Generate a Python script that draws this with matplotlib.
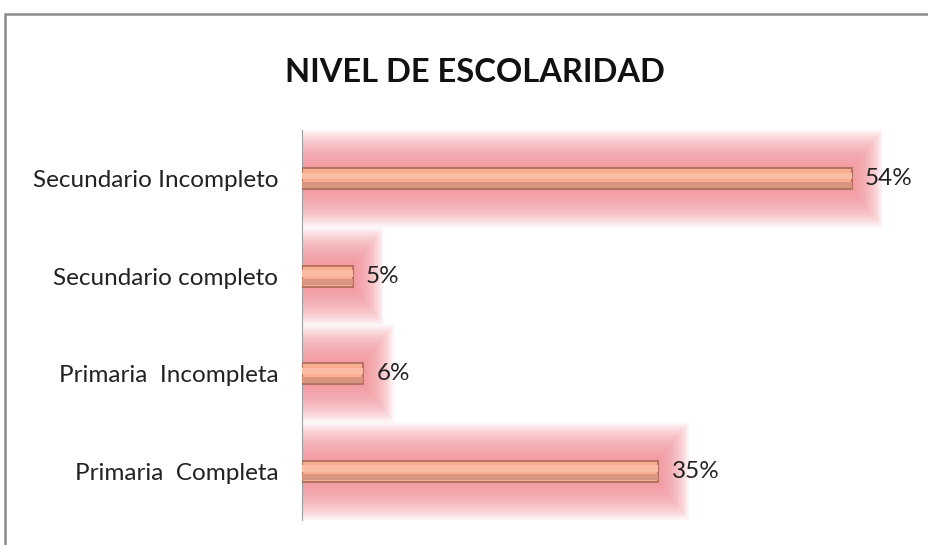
import matplotlib.pyplot as plt
from matplotlib.patches import Rectangle

categories = ['Primaria  Completa', 'Primaria  Incompleta', 'Secundario completo', 'Secundario Incompleto']
values = [35, 6, 5, 54]
labels = ['35%', '6%', '5%', '54%']

plt.rcParams['font.family'] = ['Lato', 'DejaVu Sans']

fig = plt.figure(figsize=(9.29, 5.45), dpi=100)
# outer chart frame
fig.patches.append(Rectangle((5/929, -0.1), 1.0, 1 - 14/545 + 0.1, transform=fig.transFigure,
                             fill=False, edgecolor='#8c8c8c', linewidth=1.8))

ax = fig.add_axes([302/929, 1 - 520/545, 611/929, 390/545])
y = list(range(len(categories)))

# soft glow behind bars
n = 20
for k in range(n):
    f = k / (n - 1)
    h = 0.22 + 0.78 * f
    ext = 3.0 * f
    ax.barh(y, [v + ext for v in values], height=h, color='#f28e94', alpha=0.09,
            linewidth=0, zorder=1)

bh = 0.22
ax.barh(y, values, height=bh, color='#f9ae92', edgecolor='#a86a58', linewidth=1.2, zorder=3)
# bevel: darker lower strip, lighter upper strip
ax.barh([v - bh * 0.28 for v in y], values, height=bh * 0.3, color='#d99580', linewidth=0, zorder=4)
ax.barh([v + bh * 0.12 for v in y], values, height=bh * 0.3, color='#fcbca4', linewidth=0, zorder=4)

for yi, v, lab in zip(y, values, labels):
    ax.text(v + 1.3, yi, lab, va='center', ha='left', fontsize=17.5, color='#222222')

ax.set_xlim(0, 60)
ax.set_ylim(-0.5, 3.5)
ax.set_yticks(y)
ax.set_yticklabels(categories, fontsize=17.5, color='#222222')
ax.tick_params(axis='y', length=0, pad=17)
ax.set_xticks([])
for s in ['top', 'right', 'bottom']:
    ax.spines[s].set_visible(False)
ax.spines['left'].set_color('#a0a0a0')

fig.text(475/929, 1 - 72/545, 'NIVEL DE ESCOLARIDAD', ha='center', va='center',
         fontsize=23.5, fontweight='bold', color='#111111')

fig.savefig('out.png', dpi=100)
